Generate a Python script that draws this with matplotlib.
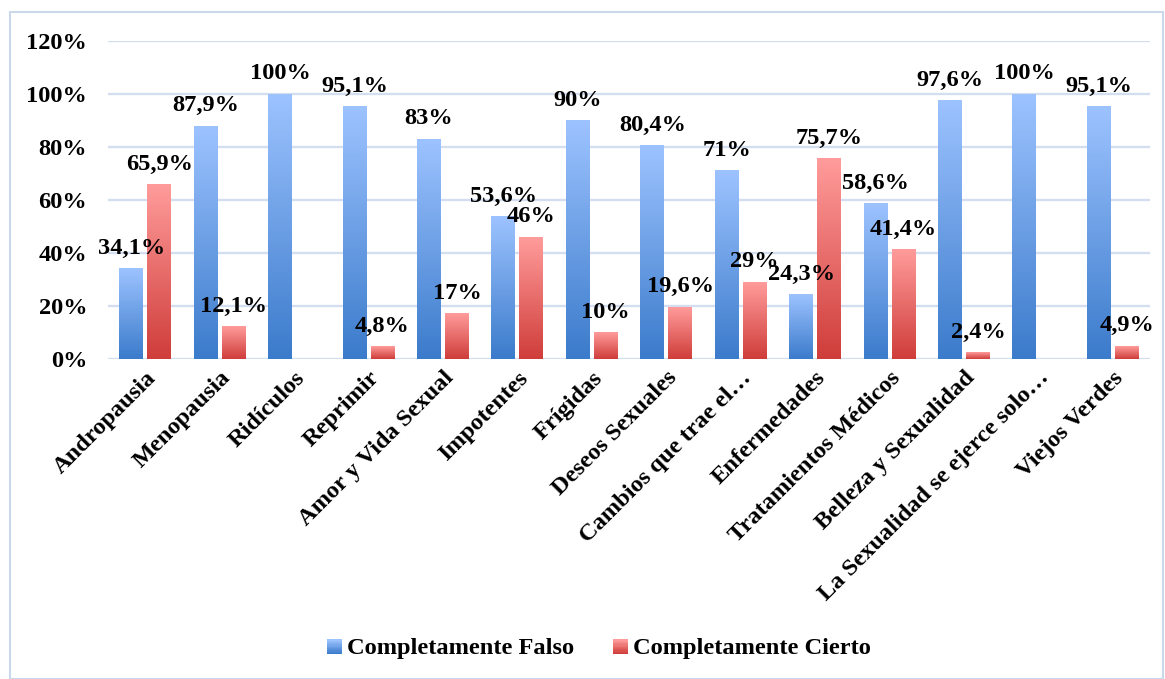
import numpy as np
import matplotlib.pyplot as plt
from matplotlib.colors import LinearSegmentedColormap
from matplotlib.patches import Rectangle
from matplotlib.legend_handler import HandlerBase

plt.rcParams['font.family'] = ['Liberation Serif', 'DejaVu Serif']
plt.rcParams['font.weight'] = 'bold'

categorias = ["Andropausia", "Menopausia", "Ridículos", "Reprimir", "Amor y Vida Sexual",
              "Impotentes", "Frígidas", "Deseos Sexuales", "Cambios que trae el…",
              "Enfermedades", "Tratamientos Médicos", "Belleza y Sexualidad",
              "La Sexualidad se ejerce solo…", "Viejos Verdes"]
falso = [34.1, 87.9, 100, 95.1, 83, 53.6, 90, 80.4, 71, 24.3, 58.6, 97.6, 100, 95.1]
cierto = [65.9, 12.1, None, 4.8, 17, 46, 10, 19.6, 29, 75.7, 41.4, 2.4, None, 4.9]
series = ["Completamente Falso", "Completamente Cierto"]
y_ticks = [0, 20, 40, 60, 80, 100, 120]

FS = 17.6
cmap_azul = LinearSegmentedColormap.from_list("azul", ["#3b7bcb", "#9dc3ff"])
cmap_rojo = LinearSegmentedColormap.from_list("rojo", ["#cf3d3a", "#ff9c9b"])
grad = np.linspace(0, 1, 256).reshape(-1, 1)[::-1]


def etiqueta(v):
    if float(v).is_integer():
        return "%d%%" % v
    return ("%.1f%%" % v).replace(".", ",")


fig = plt.figure(figsize=(11.65, 6.79), dpi=100)
fig.patches.append(Rectangle((10 / 1165, 0), 1153 / 1165, 1 - 12 / 679,
                             transform=fig.transFigure, fill=False,
                             edgecolor="#cad8ec", lw=1.5))
ax = fig.add_axes([108 / 1165, 1 - 359 / 679, 1042 / 1165, 318 / 679])

x = np.arange(len(categorias))
w = 0.32
gap = 0.055
for vals, off, cm in [(falso, -(w + gap) / 2, cmap_azul), (cierto, (w + gap) / 2, cmap_rojo)]:
    for xi, v in zip(x, vals):
        if v is None:
            continue
        x0 = xi + off - w / 2
        ax.imshow(grad, extent=(x0, x0 + w, 0, v), aspect='auto', cmap=cm,
                  zorder=3, interpolation='bilinear')
        ax.annotate(etiqueta(v), (xi + off, v), xytext=(0, 7), textcoords='offset points',
                    ha='center', va='bottom', fontsize=FS, fontweight='bold', zorder=5)

ax.set_xlim(-0.5, len(categorias) - 0.5)
ax.set_ylim(0, 120)
ax.set_yticks(y_ticks)
ax.set_yticklabels(["%d%%" % t for t in y_ticks], fontsize=FS, fontweight='bold')
ax.set_xticks(x)
ax.set_xticklabels(categorias, rotation=45, ha='right', va='top', rotation_mode='anchor',
                   fontsize=FS, fontweight='bold')
ax.tick_params(axis='both', length=0)
ax.tick_params(axis='y', pad=15)
ax.tick_params(axis='x', pad=6)
ax.grid(axis='y', color="#d3def0", lw=1.7, zorder=0)
ax.set_axisbelow(True)
for s in ax.spines.values():
    s.set_visible(False)


class HandlerGrad(HandlerBase):
    def __init__(self, cm):
        super().__init__()
        self.cm = cm

    def create_artists(self, legend, orig_handle, xdescent, ydescent, width, height, fontsize, trans):
        s = height * 0.85
        r = []
        n = 12
        for i in range(n):
            r.append(Rectangle((width - s, -ydescent + s * i / n), s, s / n + 0.2,
                               facecolor=self.cm(i / (n - 1)), edgecolor='none', transform=trans))
        return r


h1 = Rectangle((0, 0), 1, 1)
h2 = Rectangle((0, 0), 1, 1)
fig.legend([h1, h2], series, loc='center', bbox_to_anchor=(0.513, 1 - 648 / 679), ncol=2,
           frameon=False, prop={'size': FS, 'weight': 'bold'},
           handler_map={h1: HandlerGrad(cmap_azul), h2: HandlerGrad(cmap_rojo)},
           handlelength=0.7, handletextpad=0.2, columnspacing=1.5)

fig.savefig("out.png", dpi=100)
